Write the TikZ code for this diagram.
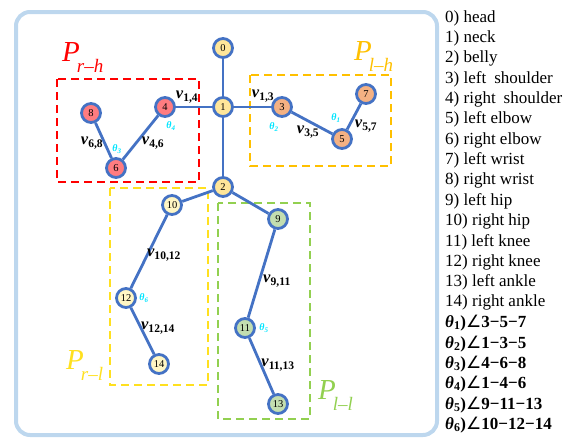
\documentclass[tikz,border=0pt]{standalone}
\usepackage{fontspec}
\setmainfont{Liberation Serif}
\newfontfamily\symfont{DejaVu Sans}
\usetikzlibrary{positioning}
\definecolor{jointblue}{HTML}{4472C4}
\definecolor{framebg}{HTML}{BDD7EE}
\definecolor{headfill}{HTML}{FFE699}
\definecolor{armlfill}{HTML}{F4B183}
\definecolor{armrfill}{HTML}{FF7C80}
\definecolor{leglfill}{HTML}{C3DEB0}
\definecolor{legrfill}{HTML}{FFF6C4}
\definecolor{partred}{HTML}{FF0000}
\definecolor{partorange}{HTML}{FFC000}
\definecolor{partyellow}{HTML}{FFE01F}
\definecolor{partgreen}{HTML}{92D050}
\definecolor{thetacyan}{HTML}{00E5FF}

\begin{document}
\begin{tikzpicture}[x=1pt, y=-1pt,
    joint/.style={circle, draw=jointblue, line width=2.8pt, minimum size=19pt, inner sep=0pt, font=\fontsize{10.5}{10.5}\selectfont},
    bone/.style={draw=jointblue, line width=2.8pt},
    part/.style={line width=2.6pt, dash pattern=on 8pt off 5pt},
    vlab/.style={inner sep=0pt, font=\fontsize{16.5}{16.5}\selectfont\bfseries},
    thlab/.style={inner sep=0pt, text=thetacyan, font=\fontsize{10}{10}\selectfont\bfseries\itshape},
    plab/.style={inner sep=0pt, anchor=base west, font=\fontsize{29}{29}\selectfont\itshape},
    legend/.style={anchor=west, inner sep=0pt, font=\fontsize{17}{17}\selectfont},
    anglelegend/.style={legend, font=\fontsize{17}{17}\selectfont\bfseries}]

    \useasboundingbox (0,0) rectangle (570,437);
    \draw[framebg, line width=4pt, rounded corners=14pt] (16,12) rectangle (437,435);

    \draw[part, partred] (57,79) rectangle (199,182);
    \draw[part, partorange] (250,75) rectangle (391,166);
    \draw[part, partyellow] (110,188) rectangle (208,385);
    \draw[part, partgreen] (218,203) rectangle (310,419);

    \node[plab, text=partred] (prh) at (62,61) {P\kern-3pt\raisebox{-11pt}{\fontsize{19}{19}\selectfont r–h}};
    \node[plab, text=partorange] (plh) at (354,60) {P\kern-3pt\raisebox{-11pt}{\fontsize{19}{19}\selectfont l–h}};
    \node[plab, text=partyellow] (prl) at (66,369) {P\kern-3pt\raisebox{-11pt}{\fontsize{19}{19}\selectfont r–l}};
    \node[plab, text=partgreen] (pll) at (318,399) {P\kern-3pt\raisebox{-11pt}{\fontsize{19}{19}\selectfont l–l}};

    \node[joint, fill=headfill] (j0) at (223,48) {0};
    \node[joint, fill=headfill] (j1) at (223,107) {1};
    \node[joint, fill=headfill] (j2) at (223,187) {2};
    \node[joint, fill=armlfill] (j3) at (282,107) {3};
    \node[joint, fill=armrfill] (j4) at (165,107) {4};
    \node[joint, fill=armlfill] (j5) at (342,139) {5};
    \node[joint, fill=armrfill] (j6) at (116,168) {6};
    \node[joint, fill=armlfill] (j7) at (366,94) {7};
    \node[joint, fill=armrfill] (j8) at (91,113) {8};
    \node[joint, fill=leglfill] (j9) at (278,219) {9};
    \node[joint, fill=legrfill] (j10) at (172,205) {10};
    \node[joint, fill=leglfill] (j11) at (245,328) {11};
    \node[joint, fill=legrfill] (j12) at (126,298) {12};
    \node[joint, fill=leglfill] (j13) at (278,404) {13};
    \node[joint, fill=legrfill] (j14) at (159,364) {14};

    \foreach \a/\b in {0/1, 1/2, 1/3, 1/4, 3/5, 5/7, 4/6, 6/8, 2/9, 2/10, 9/11, 11/13, 10/12, 12/14}
        \draw[bone] (j\a) -- (j\b);

    \node[vlab] (v14) at (187,97) {\textit{v}\textsubscript{1,4}};
    \node[vlab] (v13) at (263,96) {\textit{v}\textsubscript{1,3}};
    \node[vlab] (v35) at (308,132) {\textit{v}\textsubscript{3,5}};
    \node[vlab] (v57) at (366,126) {\textit{v}\textsubscript{5,7}};
    \node[vlab] (v68) at (92,143) {\textit{v}\textsubscript{6,8}};
    \node[vlab] (v46) at (153,143) {\textit{v}\textsubscript{4,6}};
    \node[vlab] (v1012) at (164,255) {\textit{v}\textsubscript{10,12}};
    \node[vlab] (v1214) at (158,328) {\textit{v}\textsubscript{12,14}};
    \node[vlab] (v911) at (277,281) {\textit{v}\textsubscript{9,11}};
    \node[vlab] (v1113) at (278,365) {\textit{v}\textsubscript{11,13}};

    \node[thlab] (th1) at (336,118) {θ\textsubscript{1}};
    \node[thlab] (th2) at (274,127) {θ\textsubscript{2}};
    \node[thlab] (th3) at (117,149) {θ\textsubscript{3}};
    \node[thlab] (th4) at (171,126) {θ\textsubscript{4}};
    \node[thlab] (th5) at (264,328) {θ\textsubscript{5}};
    \node[thlab] (th6) at (144,298) {θ\textsubscript{6}};

    \foreach \txt [count=\i from 0] in {head, neck, belly, left\hspace{8pt}shoulder, right\hspace{8pt}shoulder,
        left elbow, right elbow, left wrist, right wrist, left hip, right hip,
        left knee, right knee, left ankle, right ankle}
        \node[legend] (l\i) at (445,{18+20.35*\i}) {\i) \txt};

    \node[anglelegend] (a1) at (445,323) {\textit{θ}\textsubscript{1}){\symfont\mdseries ∠}3−5−7};
    \node[anglelegend] (a2) at (445,344) {\textit{θ}\textsubscript{2}){\symfont\mdseries ∠}1−3−5};
    \node[anglelegend] (a3) at (445,364) {\textit{θ}\textsubscript{3}){\symfont\mdseries ∠}4−6−8};
    \node[anglelegend] (a4) at (445,384) {\textit{θ}\textsubscript{4}){\symfont\mdseries ∠}1−4−6};
    \node[anglelegend] (a5) at (445,405) {\textit{θ}\textsubscript{5}){\symfont\mdseries ∠}9−11−13};
    \node[anglelegend] (a6) at (445,425) {\textit{θ}\textsubscript{6}){\symfont\mdseries ∠}10−12−14};
\end{tikzpicture}
\end{document}
